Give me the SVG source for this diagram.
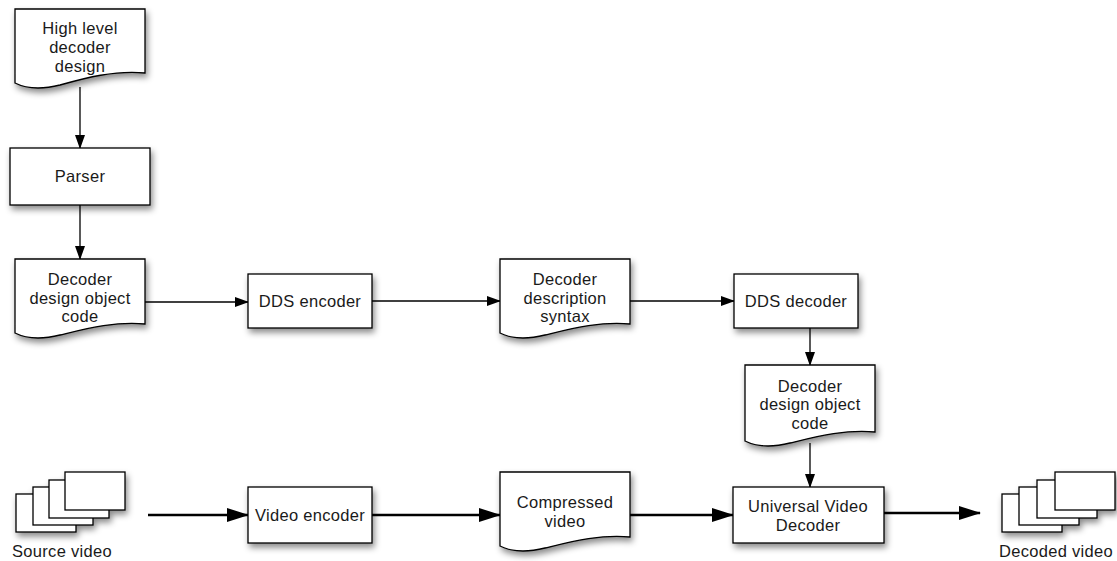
<svg xmlns="http://www.w3.org/2000/svg" width="1117" height="561" viewBox="0 0 1117 561">
<style>
.box{fill:#fff;stroke:#000;stroke-width:1.3;filter:url(#sh)}
.fr{fill:#fff;stroke:#000;stroke-width:1.3}
.t{font-family:"Liberation Sans",Arial,sans-serif;font-size:16.5px;letter-spacing:0.3px;fill:#1a1a1a;text-anchor:middle}
.c{stroke:#000;stroke-width:1.3;fill:none;marker-end:url(#a)}
.c2{stroke:#000;stroke-width:2.5;fill:none;marker-end:url(#a2)}
</style>
<defs>
<filter id="sh" x="-20%" y="-20%" width="150%" height="160%">
<feDropShadow dx="2" dy="4" stdDeviation="3" flood-color="#000" flood-opacity="0.45"/>
</filter>
<marker id="a" markerWidth="14" markerHeight="10" refX="13" refY="5" orient="auto" markerUnits="userSpaceOnUse">
<path d="M0,0 L14,5 L0,10 Z" fill="#000"/>
</marker>
<marker id="a2" markerWidth="22" markerHeight="14" refX="21" refY="7" orient="auto" markerUnits="userSpaceOnUse">
<path d="M0,0 L22,7 L0,14 Z" fill="#000"/>
</marker>
</defs>
<g id="connectors">
<line class="c" x1="80" y1="87" x2="80" y2="148"/>
<line class="c" x1="80" y1="205" x2="80" y2="259"/>
<line class="c" x1="145" y1="302" x2="248" y2="302"/>
<line class="c" x1="372" y1="301" x2="500" y2="301"/>
<line class="c" x1="630" y1="301" x2="734" y2="301"/>
<line class="c" x1="810" y1="328" x2="810" y2="365"/>
<line class="c" x1="810" y1="443" x2="810" y2="487"/>
<line class="c2" x1="148" y1="515" x2="248" y2="515"/>
<line class="c2" x1="372" y1="515" x2="500" y2="515"/>
<line class="c2" x1="630" y1="515" x2="733" y2="515"/>
<line class="c2" x1="884" y1="513" x2="980" y2="513"/>
</g>
<g id="high-level">
<path class="box" d="M15,9 H145 V73 C115,70 85,78 60,85 C40,90 25,88 15,83 Z"/>
<text class="t" x="80" y="34">High level</text>
<text class="t" x="80" y="53">decoder</text>
<text class="t" x="80" y="72">design</text>
</g>
<g id="parser">
<rect class="box" x="10" y="148" width="140" height="57"/>
<text class="t" x="80" y="182">Parser</text>
</g>
<g id="ddo-left">
<path class="box" d="M15,259 H145 V324 C115,321 85,329 60,335 C40,340 25,338 15,333 Z"/>
<text class="t" x="80" y="285">Decoder</text>
<text class="t" x="80" y="304">design object</text>
<text class="t" x="80" y="322">code</text>
</g>
<g id="dds-encoder">
<rect class="box" x="248" y="274" width="124" height="54"/>
<text class="t" x="310" y="307">DDS encoder</text>
</g>
<g id="dds">
<path class="box" d="M500,259 H630 V324 C600,321 570,329 545,335 C525,340 510,338 500,333 Z"/>
<text class="t" x="565" y="285">Decoder</text>
<text class="t" x="565" y="304">description</text>
<text class="t" x="565" y="322">syntax</text>
</g>
<g id="dds-decoder">
<rect class="box" x="734" y="274" width="124" height="54"/>
<text class="t" x="796" y="307">DDS decoder</text>
</g>
<g id="ddo-right">
<path class="box" d="M745,365 H875 V432 C845,429 815,437 790,443 C770,448 755,446 745,441 Z"/>
<text class="t" x="810" y="392">Decoder</text>
<text class="t" x="810" y="410">design object</text>
<text class="t" x="810" y="429">code</text>
</g>
<g id="source-video">
<g filter="url(#sh)">
<rect class="fr" x="16" y="494" width="60" height="38"/>
<rect class="fr" x="33" y="487" width="60" height="38"/>
<rect class="fr" x="49" y="480" width="60" height="38"/>
<rect class="fr" x="65" y="472" width="60" height="38"/>
</g>
<text class="t" x="62" y="557">Source video</text>
</g>
<g id="video-encoder">
<rect class="box" x="248" y="487" width="124" height="56"/>
<text class="t" x="310" y="521">Video encoder</text>
</g>
<g id="compressed">
<path class="box" d="M500,472 H630 V537 C600,534 570,542 545,548 C525,553 510,551 500,546 Z"/>
<text class="t" x="565" y="508">Compressed</text>
<text class="t" x="565" y="527">video</text>
</g>
<g id="uvd">
<rect class="box" x="733" y="487" width="151" height="56"/>
<text class="t" x="808" y="512">Universal Video</text>
<text class="t" x="808" y="531">Decoder</text>
</g>
<g id="decoded-video">
<g filter="url(#sh)">
<rect class="fr" x="1002" y="494" width="60" height="38"/>
<rect class="fr" x="1019" y="487" width="60" height="38"/>
<rect class="fr" x="1037" y="480" width="60" height="38"/>
<rect class="fr" x="1055" y="472" width="60" height="38"/>
</g>
<text class="t" x="1056" y="557">Decoded video</text>
</g>
</svg>
